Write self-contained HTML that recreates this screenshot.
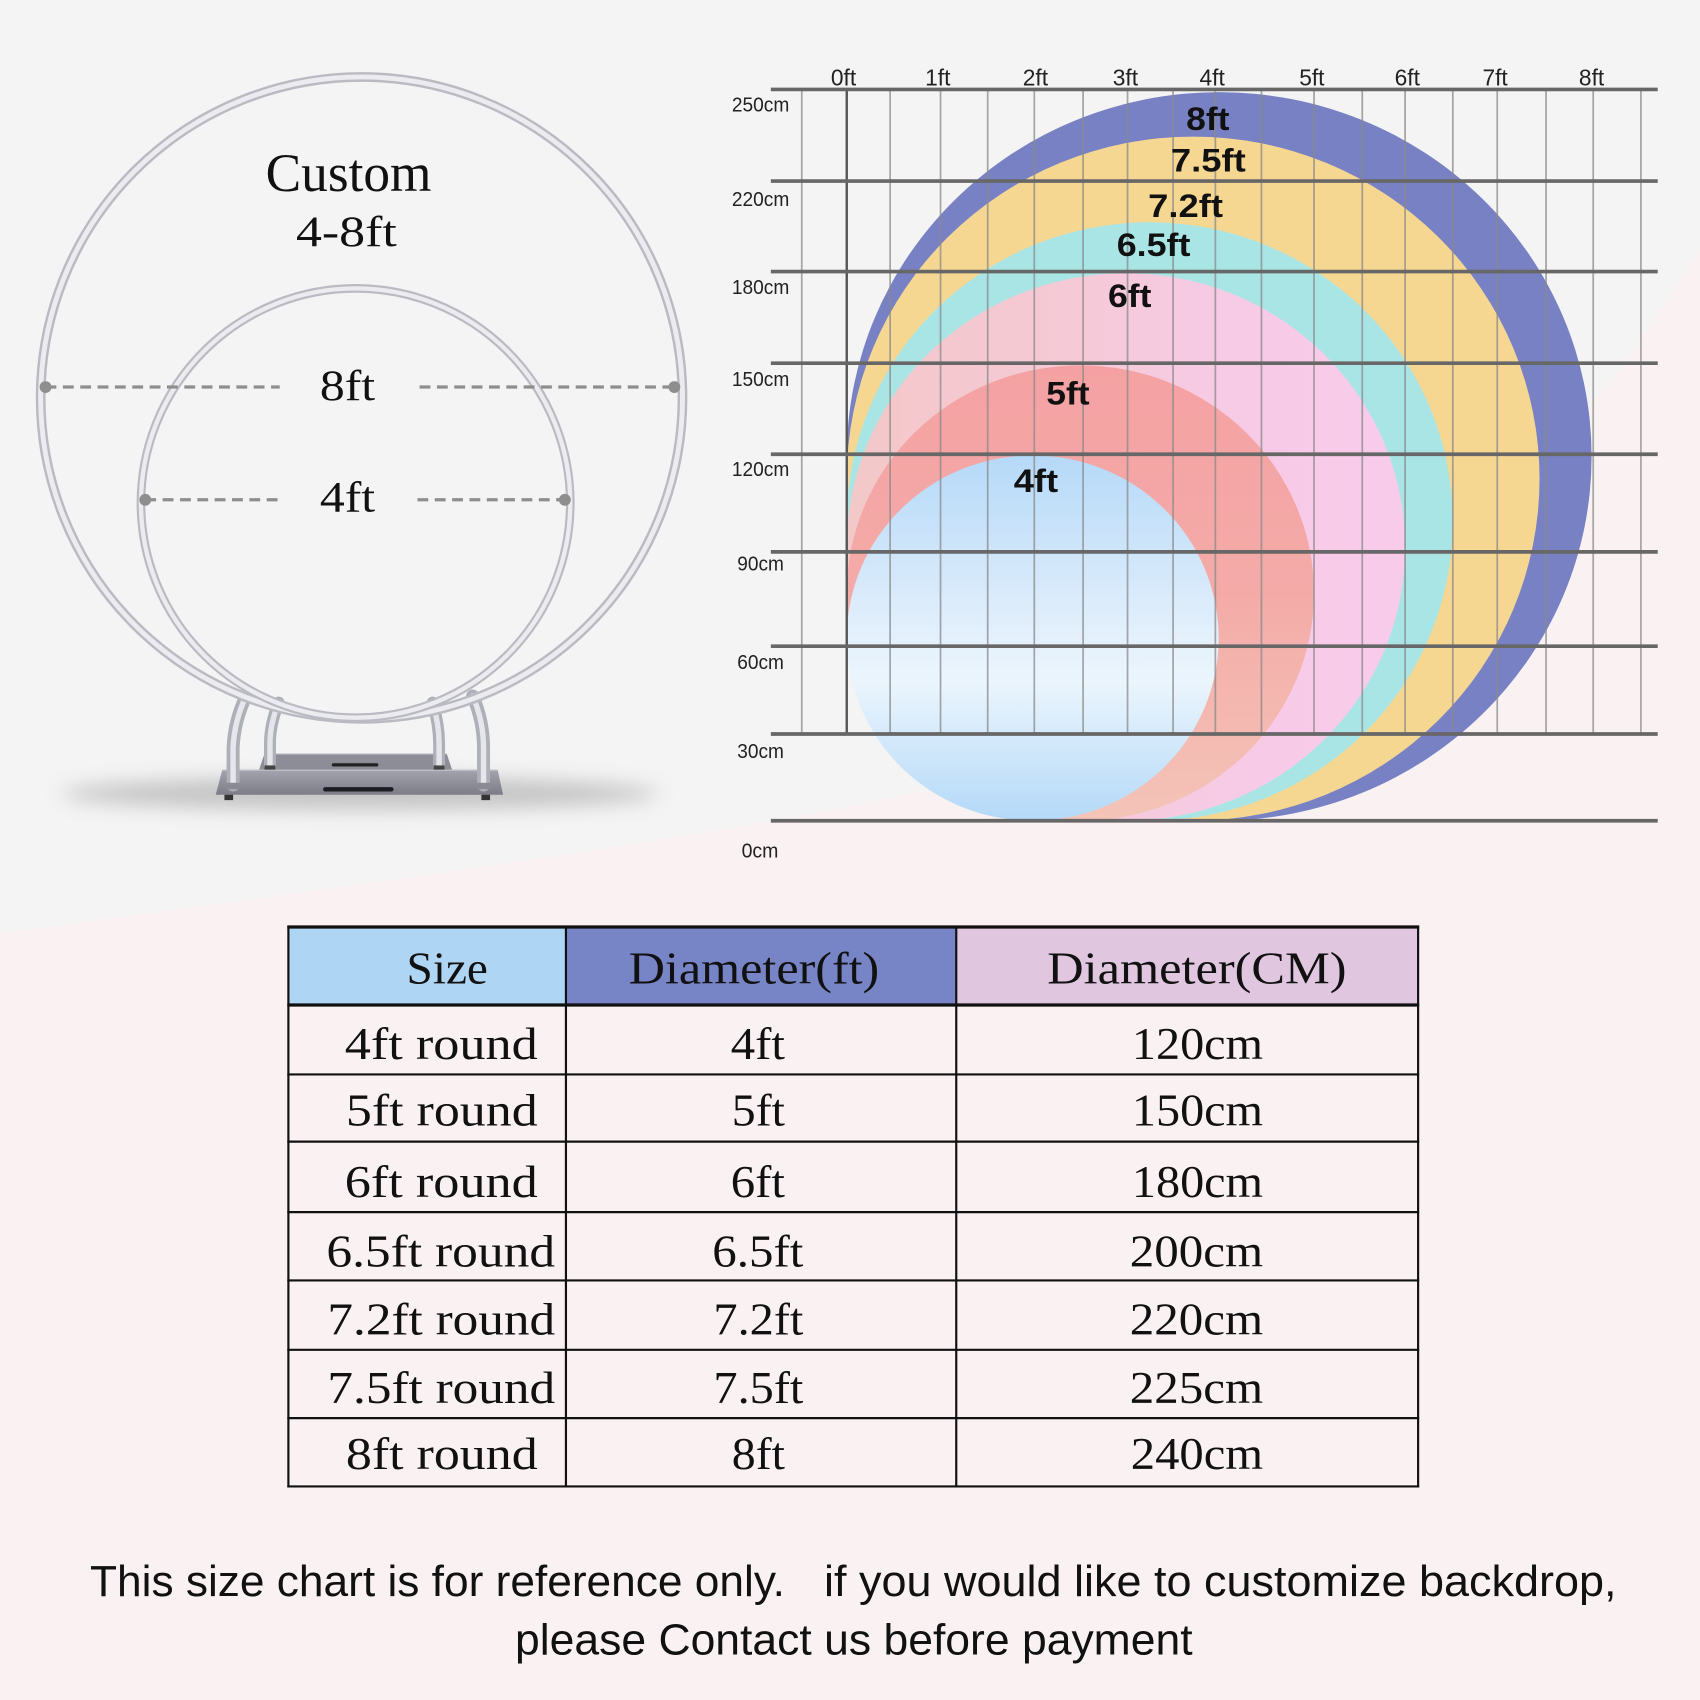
<!DOCTYPE html>
<html>
<head>
<meta charset="utf-8">
<style>
html,body{margin:0;padding:0;background:#faf1f2;}
svg{display:block;}
.sans{font-family:"Liberation Sans",Arial,sans-serif;}
.serif{font-family:"Liberation Serif","Times New Roman",serif;}
</style>
</head>
<body>
<svg width="1700" height="1700" viewBox="0 0 1568 1568" xmlns="http://www.w3.org/2000/svg">
<defs>
  <linearGradient id="pinkG" gradientUnits="userSpaceOnUse" x1="781" y1="0" x2="1296" y2="0">
    <stop offset="0" stop-color="#f3c8c8"/>
    <stop offset="0.4" stop-color="#f5c9d6"/>
    <stop offset="0.7" stop-color="#f7cbe6"/>
    <stop offset="1" stop-color="#f8cbeb"/>
  </linearGradient>
  <linearGradient id="salG" gradientUnits="userSpaceOnUse" x1="0" y1="337" x2="0" y2="757">
    <stop offset="0" stop-color="#f5a1a3"/>
    <stop offset="0.5" stop-color="#f4aba8"/>
    <stop offset="1" stop-color="#f4c4b8"/>
  </linearGradient>
  <linearGradient id="lbG" gradientUnits="userSpaceOnUse" x1="0" y1="420" x2="0" y2="757">
    <stop offset="0" stop-color="#b6d9f8"/>
    <stop offset="0.5" stop-color="#e4f0fc"/>
    <stop offset="0.62" stop-color="#ebf5fd"/>
    <stop offset="1" stop-color="#b4d9f8"/>
  </linearGradient>
  <linearGradient id="plateG" x1="0" y1="0" x2="0" y2="1">
    <stop offset="0" stop-color="#a4a4ae"/>
    <stop offset="1" stop-color="#7c7c88"/>
  </linearGradient>
  <filter id="blur" x="-20%" y="-200%" width="140%" height="500%">
    <feGaussianBlur stdDeviation="9"/>
  </filter>
</defs>

<!-- background -->
<rect x="0" y="0" width="1568" height="1568" fill="#faf1f2"/>
<path d="M0,0 H1568 V228 C1400,520 1150,660 850,730 C650,775 300,820 0,861 Z" fill="#f4f4f4"/>

<!-- ===== Left illustration ===== -->
<ellipse cx="332" cy="732" rx="275" ry="15" fill="#b4b4b4" opacity="0.75" filter="url(#blur)"/>

<!-- back plate -->
<polygon points="244,695 412,695 417,710 239,710" fill="#8d8d98"/>
<line x1="244" y1="695.5" x2="412" y2="695.5" stroke="#b5b5be" stroke-width="1"/>
<rect x="306" y="704" width="43" height="3" rx="1.5" fill="#222"/>
<!-- inner legs -->
<path d="M257,648 Q249,668 249,686 L249,706" fill="none" stroke="#aeb0b8" stroke-width="11" stroke-linecap="round"/>
<path d="M257,648 Q249,668 249,686 L249,706" fill="none" stroke="#e4e5ea" stroke-width="5" stroke-linecap="round"/>
<path d="M399,648 Q405,668 405,686 L405,706" fill="none" stroke="#aeb0b8" stroke-width="11" stroke-linecap="round"/>
<path d="M399,648 Q405,668 405,686 L405,706" fill="none" stroke="#e4e5ea" stroke-width="5" stroke-linecap="round"/>
<rect x="244" y="706" width="10" height="5" fill="#444"/>
<rect x="400" y="706" width="10" height="5" fill="#444"/>
<!-- front plate -->
<polygon points="205,710 459,710 464,733 199,733" fill="url(#plateG)"/>
<line x1="205" y1="710.5" x2="459" y2="710.5" stroke="#c0c0c8" stroke-width="1"/>
<rect x="298" y="726" width="65" height="4" rx="2" fill="#1c1c22"/>
<rect x="207" y="733" width="8" height="5" fill="#333"/>
<rect x="444" y="733" width="8" height="5" fill="#333"/>
<!-- outer legs -->
<path d="M227,642 Q216,665 215,690 L215,724" fill="none" stroke="#aeb0b8" stroke-width="12" stroke-linecap="round"/>
<path d="M227,642 Q216,665 215,690 L215,724" fill="none" stroke="#e6e7ec" stroke-width="5" stroke-linecap="round"/>
<path d="M436,642 Q446,665 446,690 L446,724" fill="none" stroke="#aeb0b8" stroke-width="12" stroke-linecap="round"/>
<path d="M436,642 Q446,665 446,690 L446,724" fill="none" stroke="#e6e7ec" stroke-width="5" stroke-linecap="round"/>
<rect x="209" y="722" width="12" height="6" fill="#8a8a92"/>
<rect x="440" y="722" width="12" height="6" fill="#8a8a92"/>

<!-- rings -->
<circle cx="333.5" cy="367" r="296" fill="none" stroke="#babbc2" stroke-width="9"/>
<circle cx="333.5" cy="367" r="296" fill="none" stroke="#ececf0" stroke-width="4.5"/>
<circle cx="328" cy="464" r="198" fill="none" stroke="#babbc2" stroke-width="8"/>
<circle cx="328" cy="464" r="198" fill="none" stroke="#ececf0" stroke-width="4"/>

<!-- dashed measurement lines -->
<g stroke="#8e8e8e" stroke-width="3" stroke-dasharray="10 6">
  <line x1="42" y1="357" x2="258" y2="357"/>
  <line x1="387" y1="357" x2="622" y2="357"/>
  <line x1="134" y1="461" x2="262" y2="461"/>
  <line x1="385" y1="461" x2="521" y2="461"/>
</g>
<g fill="#8e8e8e">
  <circle cx="42" cy="357" r="5.5"/>
  <circle cx="622" cy="357" r="5.5"/>
  <circle cx="134" cy="461" r="5.5"/>
  <circle cx="521" cy="461" r="5.5"/>
</g>

<g class="serif" fill="#111">
  <text x="245" y="176" font-size="50" textLength="153" lengthAdjust="spacingAndGlyphs">Custom</text>
  <text x="273" y="227" font-size="40" textLength="93" lengthAdjust="spacingAndGlyphs">4-8ft</text>
  <text x="295" y="369" font-size="40" textLength="51" lengthAdjust="spacingAndGlyphs">8ft</text>
  <text x="295" y="472" font-size="40" textLength="51" lengthAdjust="spacingAndGlyphs">4ft</text>
</g>

<!-- ===== Chart ===== -->
<ellipse cx="1124.5" cy="421" rx="343.5" ry="336" fill="#7781c4"/>
<ellipse cx="1100.5" cy="441.5" rx="319.5" ry="315.5" fill="#f5d792"/>
<ellipse cx="1060.5" cy="481" rx="279.5" ry="276" fill="#aae5e6"/>
<ellipse cx="1038.5" cy="504.5" rx="257.5" ry="252.5" fill="url(#pinkG)"/>
<ellipse cx="996.5" cy="547" rx="215.5" ry="210" fill="url(#salG)"/>
<ellipse cx="952.5" cy="588.5" rx="171.5" ry="168.5" fill="url(#lbG)"/>

<!-- vertical grid lines -->
<g stroke="#8a8a8a" stroke-opacity="0.75" stroke-width="1.6">
  <line x1="739.5" y1="82" x2="739.5" y2="677"/>
  <line x1="821" y1="82" x2="821" y2="677"/>
  <line x1="867.5" y1="82" x2="867.5" y2="677"/>
  <line x1="911" y1="82" x2="911" y2="677"/>
  <line x1="954" y1="82" x2="954" y2="677"/>
  <line x1="999" y1="82" x2="999" y2="677"/>
  <line x1="1040" y1="82" x2="1040" y2="677"/>
  <line x1="1082" y1="82" x2="1082" y2="677"/>
  <line x1="1121" y1="82" x2="1121" y2="677"/>
  <line x1="1163.5" y1="82" x2="1163.5" y2="677"/>
  <line x1="1212" y1="82" x2="1212" y2="677"/>
  <line x1="1256.5" y1="82" x2="1256.5" y2="677"/>
  <line x1="1296" y1="82" x2="1296" y2="677"/>
  <line x1="1340" y1="82" x2="1340" y2="677"/>
  <line x1="1381" y1="82" x2="1381" y2="677"/>
  <line x1="1426" y1="82" x2="1426" y2="677"/>
  <line x1="1469.5" y1="82" x2="1469.5" y2="677"/>
  <line x1="1513.5" y1="82" x2="1513.5" y2="677"/>
</g>
<line x1="781" y1="82" x2="781" y2="677" stroke="#555" stroke-width="2.2"/>

<!-- horizontal grid lines -->
<g stroke="#676767" stroke-width="3.4">
  <line x1="711" y1="82.5" x2="1529" y2="82.5"/>
  <line x1="711" y1="167" x2="1529" y2="167"/>
  <line x1="711" y1="250.5" x2="1529" y2="250.5"/>
  <line x1="711" y1="335" x2="1529" y2="335"/>
  <line x1="711" y1="419" x2="1529" y2="419"/>
  <line x1="711" y1="509" x2="1529" y2="509"/>
  <line x1="711" y1="596" x2="1529" y2="596"/>
  <line x1="711" y1="677" x2="1529" y2="677"/>
  <line x1="711" y1="757" x2="1529" y2="757"/>
</g>

<!-- ft labels -->
<g class="sans" fill="#222" font-size="21" text-anchor="middle">
  <text x="778" y="79">0ft</text>
  <text x="865" y="79">1ft</text>
  <text x="955" y="79">2ft</text>
  <text x="1038" y="79">3ft</text>
  <text x="1118" y="79">4ft</text>
  <text x="1210" y="79">5ft</text>
  <text x="1298" y="79">6ft</text>
  <text x="1379" y="79">7ft</text>
  <text x="1468" y="79">8ft</text>
</g>

<!-- cm labels -->
<g class="sans" fill="#222" font-size="19">
  <text x="675" y="103" textLength="53" lengthAdjust="spacingAndGlyphs">250cm</text>
  <text x="675" y="190" textLength="53" lengthAdjust="spacingAndGlyphs">220cm</text>
  <text x="675" y="271" textLength="53" lengthAdjust="spacingAndGlyphs">180cm</text>
  <text x="675" y="356" textLength="53" lengthAdjust="spacingAndGlyphs">150cm</text>
  <text x="675" y="439" textLength="53" lengthAdjust="spacingAndGlyphs">120cm</text>
  <text x="680" y="526" textLength="43" lengthAdjust="spacingAndGlyphs">90cm</text>
  <text x="680" y="617" textLength="43" lengthAdjust="spacingAndGlyphs">60cm</text>
  <text x="680" y="699" textLength="43" lengthAdjust="spacingAndGlyphs">30cm</text>
  <text x="684" y="791" textLength="34" lengthAdjust="spacingAndGlyphs">0cm</text>
</g>

<!-- circle labels -->
<g class="sans" fill="#111" font-size="30" font-weight="bold">
  <text x="1094" y="120" textLength="40" lengthAdjust="spacingAndGlyphs">8ft</text>
  <text x="1080" y="158" textLength="69" lengthAdjust="spacingAndGlyphs">7.5ft</text>
  <text x="1059" y="200" textLength="69" lengthAdjust="spacingAndGlyphs">7.2ft</text>
  <text x="1030" y="236" textLength="68" lengthAdjust="spacingAndGlyphs">6.5ft</text>
  <text x="1022" y="283" textLength="40" lengthAdjust="spacingAndGlyphs">6ft</text>
  <text x="965" y="373" textLength="40" lengthAdjust="spacingAndGlyphs">5ft</text>
  <text x="935" y="454" textLength="41" lengthAdjust="spacingAndGlyphs">4ft</text>
</g>

<!-- ===== Table ===== -->
<rect x="266" y="855" width="256" height="72" fill="#aed5f3"/>
<rect x="522" y="855" width="360" height="72" fill="#7784c6"/>
<rect x="882" y="855" width="426" height="72" fill="#e0c7df"/>
<g stroke="#111" stroke-width="2">
  <line x1="265" y1="855" x2="1309" y2="855" stroke-width="3"/>
  <line x1="265" y1="927" x2="1309" y2="927" stroke-width="3"/>
  <line x1="265" y1="991" x2="1309" y2="991"/>
  <line x1="265" y1="1053" x2="1309" y2="1053"/>
  <line x1="265" y1="1118" x2="1309" y2="1118"/>
  <line x1="265" y1="1181" x2="1309" y2="1181"/>
  <line x1="265" y1="1245" x2="1309" y2="1245"/>
  <line x1="265" y1="1308" x2="1309" y2="1308"/>
  <line x1="265" y1="1371" x2="1309" y2="1371"/>
  <line x1="266" y1="854" x2="266" y2="1372"/>
  <line x1="522" y1="854" x2="522" y2="1372"/>
  <line x1="882" y1="854" x2="882" y2="1372"/>
  <line x1="1308" y1="854" x2="1308" y2="1372"/>
</g>
<g class="serif" fill="#111" font-size="42">
  <text x="375" y="907" textLength="75" lengthAdjust="spacingAndGlyphs">Size</text>
  <text x="580" y="907" textLength="231" lengthAdjust="spacingAndGlyphs">Diameter(ft)</text>
  <text x="966" y="907" textLength="276" lengthAdjust="spacingAndGlyphs">Diameter(CM)</text>

  <text x="318" y="977" textLength="178" lengthAdjust="spacingAndGlyphs">4ft round</text>
  <text x="674" y="977" textLength="50" lengthAdjust="spacingAndGlyphs">4ft</text>
  <text x="1044" y="977" textLength="121" lengthAdjust="spacingAndGlyphs">120cm</text>

  <text x="319" y="1038" textLength="177" lengthAdjust="spacingAndGlyphs">5ft round</text>
  <text x="675" y="1038" textLength="49" lengthAdjust="spacingAndGlyphs">5ft</text>
  <text x="1044" y="1038" textLength="121" lengthAdjust="spacingAndGlyphs">150cm</text>

  <text x="318" y="1104" textLength="178" lengthAdjust="spacingAndGlyphs">6ft round</text>
  <text x="674" y="1104" textLength="50" lengthAdjust="spacingAndGlyphs">6ft</text>
  <text x="1044" y="1104" textLength="121" lengthAdjust="spacingAndGlyphs">180cm</text>

  <text x="301" y="1168" textLength="211" lengthAdjust="spacingAndGlyphs">6.5ft round</text>
  <text x="657" y="1168" textLength="84" lengthAdjust="spacingAndGlyphs">6.5ft</text>
  <text x="1042" y="1168" textLength="123" lengthAdjust="spacingAndGlyphs">200cm</text>

  <text x="302" y="1231" textLength="210" lengthAdjust="spacingAndGlyphs">7.2ft round</text>
  <text x="658" y="1231" textLength="83" lengthAdjust="spacingAndGlyphs">7.2ft</text>
  <text x="1042" y="1231" textLength="123" lengthAdjust="spacingAndGlyphs">220cm</text>

  <text x="302" y="1294" textLength="210" lengthAdjust="spacingAndGlyphs">7.5ft round</text>
  <text x="658" y="1294" textLength="83" lengthAdjust="spacingAndGlyphs">7.5ft</text>
  <text x="1042" y="1294" textLength="123" lengthAdjust="spacingAndGlyphs">225cm</text>

  <text x="319" y="1355" textLength="177" lengthAdjust="spacingAndGlyphs">8ft round</text>
  <text x="675" y="1355" textLength="49" lengthAdjust="spacingAndGlyphs">8ft</text>
  <text x="1043" y="1355" textLength="122" lengthAdjust="spacingAndGlyphs">240cm</text>
</g>

<!-- ===== Footer ===== -->
<g class="sans" fill="#111" font-size="40">
  <text x="83" y="1472" textLength="641" lengthAdjust="spacingAndGlyphs">This size chart is for reference only.</text>
  <text x="760" y="1472" textLength="731" lengthAdjust="spacingAndGlyphs">if you would like to customize backdrop,</text>
  <text x="475" y="1526" textLength="625" lengthAdjust="spacingAndGlyphs">please Contact us before payment</text>
</g>
</svg>
</body>
</html>
